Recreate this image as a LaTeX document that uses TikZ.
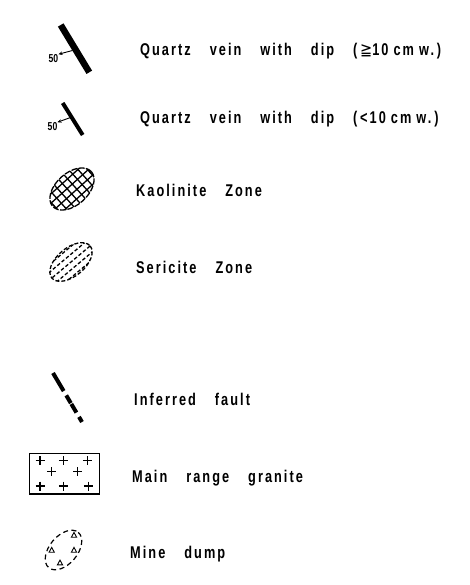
\documentclass[tikz,border=0pt]{standalone}
\usepackage{fontspec}
\setmainfont{Liberation Sans Bold}[LetterSpace=12,FakeStretch=0.75,WordSpace=3.4]
\newfontfamily\symfont{DejaVu Sans}[FakeStretch=0.85]
\usetikzlibrary{arrows.meta}
\begin{document}
\begin{tikzpicture}[x=1pt,y=-1pt,
  lbl/.style={anchor=base west,inner sep=0pt,font=\fontsize{17}{17}\selectfont},
  diplbl/.style={inner sep=0pt,font=\fontsize{11.5}{11.5}\selectfont\addfontfeatures{LetterSpace=0}},
  diparrow/.style={line width=0.9pt,-{Stealth[length=4pt,width=3.6pt]}},
  hatch/.style={line width=1.3pt},
  serline/.style={line width=1.3pt,dash pattern=on 3.5pt off 2.2pt},
  outline/.style={line width=1.3pt},
  plussign/.style={line width=1.4pt},
  tri/.style={line width=0.9pt}]
\useasboundingbox (0,0) rectangle (470,585);

% --- quartz vein >= 10 cm
\coordinate (v1a) at (60.7,25);
\coordinate (v1b) at (89.3,72.3);
\draw[line width=6.5pt] (v1a) -- (v1b);
\coordinate (v1s) at (72.5,50.5);
\node[diplbl] (d1) at (53.5,58.5) {50};
\draw[diparrow] (v1s) -- (d1.north east);

% --- quartz vein < 10 cm
\coordinate (v2a) at (62.7,103);
\coordinate (v2b) at (82.7,135);
\draw[line width=4pt] (v2a) -- (v2b);
\coordinate (v2s) at (70.5,117.5);
\node[diplbl] (d2) at (52.5,126.5) {50};
\draw[diparrow] (v2s) -- (d2.north east);

% --- kaolinite zone
\begin{scope}[shift={(72,189)},rotate=42]
  \begin{scope}
    \clip (0,0) ellipse (26 and 16);
    \foreach \k in {-24.5,-17.5,...,25} {
      \draw[hatch] (\k,-20) -- (\k,20);
      \draw[hatch] (-30,\k) -- (30,\k);
    }
  \end{scope}
  \draw[outline,dash pattern=on 6pt off 1.5pt] (0,0) ellipse (26 and 16);
\end{scope}

% --- sericite zone
\begin{scope}[shift={(71,262)},rotate=40]
  \begin{scope}
    \clip (0,0) ellipse (25 and 14);
    \foreach \k in {-12,-6,...,13} {
      \draw[serline] (-30,\k) -- (30,\k);
    }
  \end{scope}
  \draw[outline,dash pattern=on 4pt off 2pt] (0,0) ellipse (25 and 14);
\end{scope}

% --- inferred fault
\coordinate (fa) at (53,373);
\coordinate (fb) at (82,422);
\draw[line width=4pt,dash pattern=on 21pt off 5pt on 9pt off 1pt on 10pt off 5pt on 7pt] (fa) -- (fb);

% --- main range granite
\draw[line width=1.3pt] (29.3,453.3) rectangle (99.3,494);
\foreach \px/\py in {40/460.7,63.3/460.7,87.3/460.7,51.7/471.7,77.7/471.7,40/486,63.3/486,88.3/486} {
  \draw[plussign] (\px-4.5,\py) -- (\px+4.5,\py) (\px,\py-4.5) -- (\px,\py+4.5);
}

% --- mine dump
\begin{scope}[shift={(63.5,550)},rotate=50]
  \draw[outline,line width=1.2pt,dash pattern=on 5pt off 3.5pt] (0,0) ellipse (23 and 14);
\end{scope}
\foreach \px/\py in {74/535,51.7/550,74/550,60/562.7} {
  \draw[tri] (\px-2.6,\py+2.2) -- (\px,\py-2.6) -- (\px+2.6,\py+2.2) -- cycle;
}

% --- labels
\node[lbl] (t1) at (140,55.5) {Quartz vein with dip (\,{\symfont ≧}{\spaceskip=5pt 10 cm w.}\,)};
\node[lbl] (t2) at (140,123.5) {Quartz vein with dip (\,<{\spaceskip=5pt 10 cm w.}\,)};
\node[lbl] (t3) at (136,196.5) {Kaolinite Zone};
\node[lbl] (t4) at (136,273) {Sericite Zone};
\node[lbl] (t5) at (134,405) {Inferred fault};
\node[lbl] (t6) at (132,482) {Main range granite};
\node[lbl] (t7) at (130,558) {Mine dump};
\end{tikzpicture}
\end{document}
